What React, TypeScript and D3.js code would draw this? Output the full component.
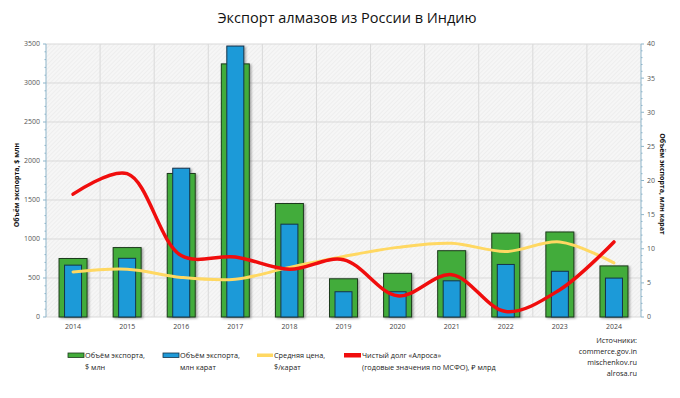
import { scaleBand, scaleLinear, line, curveCatmullRom, range } from "d3";

const width = 680;
const height = 398;
const margin = { top: 44, right: 39, bottom: 81, left: 46 };

const years = [2014, 2015, 2016, 2017, 2018, 2019, 2020, 2021, 2022, 2023, 2024];
// Объём экспорта, $ млн (левая ось)
const exportUsd = [750, 890, 1840, 3245, 1455, 490, 560, 850, 1075, 1090, 655];
// Объём экспорта, млн карат (правая ось)
const exportCarat = [7.6, 8.6, 21.8, 39.7, 13.6, 3.7, 3.7, 5.3, 7.7, 6.7, 5.7];
// Средняя цена, $/карат (скрытая шкала 0–600)
const avgPrice = [99, 105, 87, 83, 109, 133, 153, 162, 144, 165, 119];
// Чистый долг «Алроса», ₽ млрд (скрытая шкала 0–400)
const netDebt = [180, 210, 90, 88, 70, 84, 31, 62, 8, 40, 110];

const leftTicks = [0, 500, 1000, 1500, 2000, 2500, 3000, 3500];
const rightTicks = [0, 5, 10, 15, 20, 25, 30, 35, 40];

const sources = ["Источники:", "commerce.gov.in", "mischenkov.ru", "alrosa.ru"];

const font = "'Open Sans', 'Noto Sans', sans-serif";
const axisColor = "#8db4c9";

const App = () => {
  const innerWidth = width - margin.left - margin.right;
  const innerHeight = height - margin.top - margin.bottom;

  const xScale = scaleBand<number>().domain(years).range([0, innerWidth]);
  const yLeft = scaleLinear().domain([0, 3500]).range([innerHeight, 0]);
  const yRight = scaleLinear().domain([0, 40]).range([innerHeight, 0]);
  const yPrice = scaleLinear().domain([0, 600]).range([innerHeight, 0]);
  const yDebt = scaleLinear().domain([0, 400]).range([innerHeight, 0]);

  const bw = xScale.bandwidth();
  const cx = (y: number) => (xScale(y) as number) + bw / 2;

  const priceLine = line<number>()
    .x((d, i) => cx(years[i]))
    .y((d) => yPrice(d))
    .curve(curveCatmullRom);
  const debtLine = line<number>()
    .x((d, i) => cx(years[i]))
    .y((d) => yDebt(d))
    .curve(curveCatmullRom);

  const greenW = 28;
  const blueW = 17;

  return (
    <svg width={width} height={height} style={{ display: "block", position: "absolute", left: 0, top: 0 }}>
      <defs>
        <pattern id="hatch" width="3" height="3" patternUnits="userSpaceOnUse" patternTransform="rotate(45)">
          <rect width="3" height="3" fill="#f6f6f6" />
          <line x1="0" y1="0" x2="0" y2="3" stroke="#e6e6e6" strokeWidth="1" />
        </pattern>
        <filter id="shadow" x="-20%" y="-5%" width="150%" height="115%">
          <feDropShadow dx="1.5" dy="1" stdDeviation="1" floodColor="#000" floodOpacity="0.35" />
        </filter>
      </defs>
      <rect width={width} height={height} fill="#fff" />

      <text x={347} y={23} textAnchor="middle" fontFamily={font} fontSize={14.5} fill="#111">
        Экспорт алмазов из России в Индию
      </text>

      <g transform={`translate(${margin.left},${margin.top})`}>
        <rect width={innerWidth} height={innerHeight} fill="url(#hatch)" />
        {leftTicks.map((t) => (
          <line key={t} x1={0} x2={innerWidth} y1={yLeft(t)} y2={yLeft(t)} stroke="#d9d9d9" />
        ))}
        {years.slice(1).map((y) => (
          <line key={y} x1={xScale(y)} x2={xScale(y)} y1={0} y2={innerHeight} stroke="#d9d9d9" />
        ))}

        {/* bars */}
        {years.map((y, i) => (
          <g key={y} filter="url(#shadow)">
            <rect
              x={cx(y) - greenW / 2}
              y={yLeft(exportUsd[i])}
              width={greenW}
              height={innerHeight - yLeft(exportUsd[i])}
              fill="#43ac3a"
              stroke="#1c3a1c"
              strokeWidth={1}
            />
            <rect
              x={cx(y) - blueW / 2}
              y={yRight(exportCarat[i])}
              width={blueW}
              height={innerHeight - yRight(exportCarat[i])}
              fill="#1f9ad8"
              stroke="#15324a"
              strokeWidth={1}
            />
          </g>
        ))}

        <path d={priceLine(avgPrice) || ""} fill="none" stroke="#ffd862" strokeWidth={3} strokeLinecap="round" />
        <path d={debtLine(netDebt) || ""} fill="none" stroke="#f00d0d" strokeWidth={3.5} strokeLinecap="round" />

        {/* left axis */}
        <line x1={0} x2={0} y1={0} y2={innerHeight} stroke={axisColor} />
        {range(0, 3501, 100).map((t) => (
          <line key={t} x1={t % 500 === 0 ? -3 : -1.5} x2={0} y1={yLeft(t)} y2={yLeft(t)} stroke={axisColor} />
        ))}
        {leftTicks.map((t) => (
          <text key={t} x={-6} y={yLeft(t)} dy="0.35em" textAnchor="end" fontFamily={font} fontSize={7} fill="#555">
            {t}
          </text>
        ))}

        {/* right axis */}
        <line x1={innerWidth} x2={innerWidth} y1={0} y2={innerHeight} stroke={axisColor} />
        {range(0, 40.1, 1).map((t) => (
          <line key={t} x1={innerWidth} x2={innerWidth + (t % 5 === 0 ? 3 : 1.5)} y1={yRight(t)} y2={yRight(t)} stroke={axisColor} />
        ))}
        {rightTicks.map((t) => (
          <text key={t} x={innerWidth + 6} y={yRight(t)} dy="0.35em" textAnchor="start" fontFamily={font} fontSize={7} fill="#555">
            {t}
          </text>
        ))}

        {/* x labels */}
        {years.map((y) => (
          <text key={y} x={cx(y)} y={innerHeight + 12} textAnchor="middle" fontFamily={font} fontSize={7} fill="#444">
            {y}
          </text>
        ))}
      </g>

      <text
        transform={`translate(19,${margin.top + 141}) rotate(-90)`}
        textAnchor="middle"
        fontFamily={font}
        fontSize={7}
        fontWeight="bold"
        fill="#111"
      >
        Объём экспорта, $ млн
      </text>
      <text
        transform={`translate(660,${margin.top + 140}) rotate(90)`}
        textAnchor="middle"
        fontFamily={font}
        fontSize={7}
        fontWeight="bold"
        fill="#111"
      >
        Объём экспорта, млн карат
      </text>

      {/* legend */}
      <g fontFamily={font} fontSize={7.3} fill="#222">
        <rect x={68} y={353} width={16} height={4.5} fill="#43ac3a" stroke="#1c3a1c" strokeWidth={0.8} />
        <text x={85} y={358}>Объём экспорта,</text>
        <text x={85} y={370}>$ млн</text>

        <rect x={163} y={353} width={16} height={4.5} fill="#1f9ad8" stroke="#15324a" strokeWidth={0.8} />
        <text x={180} y={358}>Объём экспорта,</text>
        <text x={180} y={370}>млн карат</text>

        <rect x={257} y={353.5} width={16} height={3.5} fill="#ffd862" />
        <text x={274} y={358}>Средняя цена,</text>
        <text x={274} y={370}>$/карат</text>

        <rect x={344} y={353} width={17} height={4.5} fill="#f00d0d" />
        <text x={362} y={358}>Чистый долг «Алроса»</text>
        <text x={362} y={370}>(годовые значения по МСФО), ₽ млрд</text>

        {sources.map((s, i) => (
          <text key={s} x={637} y={343 + i * 11} textAnchor="end">
            {s}
          </text>
        ))}
      </g>
    </svg>
  );
};

export default App;
